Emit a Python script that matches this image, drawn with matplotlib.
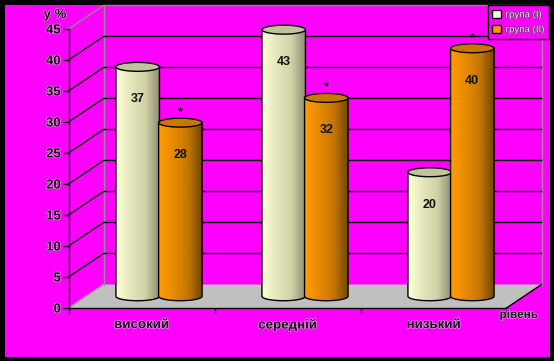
import numpy as np
import matplotlib
matplotlib.use('Agg')
import matplotlib.pyplot as plt
import matplotlib.patheffects as pe
from matplotlib.colors import LinearSegmentedColormap
from matplotlib.patches import Patch, Polygon, Rectangle

categories = ['високий', 'середній', 'низький']
group1 = [37, 43, 20]
group2 = [28, 32, 40]
starred = [True, True, True]
y_ticks = [0, 5, 10, 15, 20, 25, 30, 35, 40, 45]
legend_labels = ['група (І)', 'група (ІІ)']

plt.rcParams['font.family'] = ['Liberation Sans', 'DejaVu Sans']

W, H = 554, 361
fig = plt.figure(figsize=(W / 100, H / 100), dpi=100, facecolor='black')
fig.add_artist(Rectangle((5 / W, 1 - 357 / H), 545 / W, 352 / H, transform=fig.transFigure,
                         fc='#FF00FF', ec='none', zorder=-5))

# front plane of the 3d box, data units are categories / percent
ax = fig.add_axes([68.5 / W, 1 - 308 / H, 438 / W, 279 / H])
ax.patch.set_visible(False)

# depth of the box and of the mid plane where the bars stand
DX, DY = 35 / 146, 23.5 / 6.2
BAR_W = 43.5 / 146
ELL = 0.72
halo = [pe.withStroke(linewidth=0.8, foreground='#FFE8FF', alpha=0.7)]

# floor
ax.add_patch(Polygon([(0, 0), (DX, DY), (3 + DX, DY), (3, 0)], closed=True, fc='#C0C0C0',
                     ec='none', zorder=1, clip_on=False))
ax.plot([3, 3 + DX], [0, DY], color='black', lw=1, zorder=1.5, clip_on=False)

# walls and grid
ax.plot([DX, DX], [DY, 45 + DY], color='#9A8A9A', lw=1, zorder=1, clip_on=False)
ax.plot([3 + DX, 3 + DX], [DY, 45 + DY], color='#9A8A9A', lw=1, zorder=1, clip_on=False)
ax.plot([0, DX], [0, DY], color='#9A9A9A', lw=1, zorder=1, clip_on=False)
for t in y_ticks[1:]:
    col = '#8C8C8C' if t == 45 else 'black'
    ax.plot([0, DX, 3 + DX], [t, t + DY, t + DY], color=col, lw=1, zorder=1, clip_on=False)

cream = LinearSegmentedColormap.from_list('cream', ['#FFFFD8', '#E6E6BC', '#D2D2A8', '#8E8E70'])
orange = LinearSegmentedColormap.from_list('orange', ['#FF9C00', '#E68A00', '#C47600', '#704400'])


def cylinder(xc, val, cmap, top_col, z):
    x0 = xc + DX / 2 - BAR_W / 2
    x1 = x0 + BAR_W
    y0 = DY / 2
    y1 = y0 + val
    th = np.linspace(0, np.pi, 40)
    ex = (x0 + x1) / 2 + BAR_W / 2 * np.cos(th)
    ey = ELL * np.sin(th)
    # body with rounded bottom
    body = np.vstack([[x0, y1], [x1, y1], np.column_stack([ex[0:], y0 - ey])])
    poly = Polygon(body, closed=True, fc='none', ec='black', lw=1, zorder=z + 0.2, clip_on=False)
    ax.add_patch(poly)
    im = ax.imshow(np.linspace(0, 1, 64).reshape(1, -1), cmap=cmap, aspect='auto',
                   extent=[x0, x1, y0 - ELL, y1], zorder=z)
    im.set_clip_path(Polygon(body, closed=True, transform=ax.transData))
    # top ellipse
    tt = np.linspace(0, 2 * np.pi, 60)
    ax.add_patch(Polygon(np.column_stack([(x0 + x1) / 2 + BAR_W / 2 * np.cos(tt),
                                          y1 + ELL * np.sin(tt)]),
                         closed=True, fc=top_col, ec='black', lw=1, zorder=z + 0.3, clip_on=False))
    return (x0 + x1) / 2, y1


for i in range(len(categories)):
    base = 2 + i
    c1 = i + 0.5 - BAR_W / 2 + 0.003
    c2 = i + 0.5 + BAR_W / 2 - 0.003
    xa, ya = cylinder(c1, group1[i], cream, '#C2C29C', base)
    xb, yb = cylinder(c2, group2[i], orange, '#C87800', base + 0.5)
    for x, y, v in [(xa, ya, group1[i]), (xb, yb, group2[i])]:
        ax.annotate(str(v), (x, y), xytext=(0, -23.5), textcoords='offset points', ha='center',
                    va='center', fontsize=9, fontweight='bold', color='#111111', zorder=10,
                    annotation_clip=False)
    if starred[i]:
        ax.annotate('*', (xb, yb), xytext=(0, 7.5), textcoords='offset points', ha='center',
                    va='center', fontsize=9, fontweight='bold', color='#222222', zorder=10,
                    annotation_clip=False)

ax.set_xlim(0, 3)
ax.set_ylim(0, 45)
for s in ['top', 'right']:
    ax.spines[s].set_visible(False)
for s in ['left', 'bottom']:
    ax.spines[s].set_color('black')
    ax.spines[s].set_linewidth(1)
    ax.spines[s].set_zorder(1.6)

ax.set_yticks(y_ticks)
ax.set_yticklabels([str(t) for t in y_ticks], fontsize=9.5, fontweight='bold', color='#111111',
                   path_effects=halo)
ax.tick_params(axis='y', length=4, width=1, pad=1.5)
ax.set_xticks([0, 1, 2, 3])
ax.set_xticklabels([])
ax.tick_params(axis='x', which='major', length=4, width=1)
ax.set_xticks([0.5, 1.5, 2.5], minor=True)
ax.set_xticklabels(categories, minor=True, fontsize=9.6, fontweight='bold', color='#111111',
                   path_effects=halo)
ax.tick_params(axis='x', which='minor', length=0, pad=8)

fig.text(55 / W, 1 - 15 / H, 'у %', ha='center', va='center', fontsize=9.5, fontweight='bold',
         color='#111111', path_effects=halo)
fig.text(519 / W, 1 - 315 / H, 'рівень', ha='center', va='center', fontsize=8.5,
         fontweight='bold', color='#111111', path_effects=halo)

handles = [Patch(fc='#FFFFD8', ec='black', lw=1), Patch(fc='#FF9C00', ec='black', lw=1)]
leg = fig.legend(handles, legend_labels, loc='upper right', bbox_to_anchor=(548.5 / W, 1 - 5 / H),
                 fontsize=7, frameon=True, fancybox=False, facecolor='#FF00FF', edgecolor='black',
                 framealpha=1, borderpad=0.45, labelspacing=0.5, handlelength=0.95,
                 handleheight=0.8, handletextpad=0.45, borderaxespad=0)
leg.get_frame().set_linewidth(1)
for t in leg.get_texts():
    t.set_color('#EEEEEE')
    t.set_path_effects([pe.withStroke(linewidth=0.6, foreground='#333333')])

fig.savefig('out.png', dpi=100, facecolor=fig.get_facecolor())
